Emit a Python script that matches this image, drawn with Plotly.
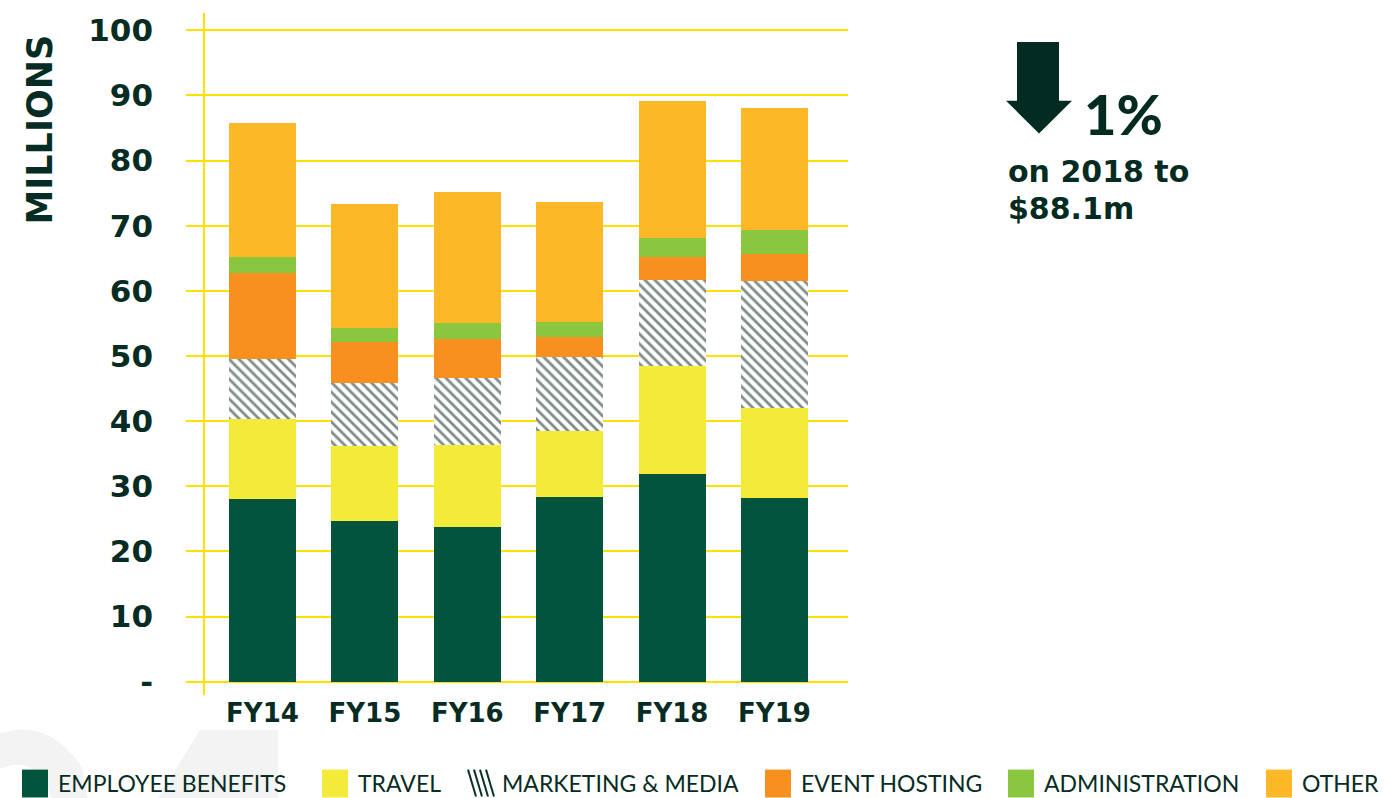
import plotly.graph_objects as go

# values in millions
years = ["FY14", "FY15", "FY16", "FY17", "FY18", "FY19"]
employee_benefits = [28.1, 24.6, 23.7, 28.4, 31.9, 28.2]
travel = [12.2, 11.6, 12.6, 10.1, 16.6, 13.8]
marketing_media = [9.3, 9.6, 10.3, 11.4, 13.1, 19.5]
event_hosting = [13.2, 6.3, 6.0, 3.0, 3.6, 4.2]
administration = [2.4, 2.2, 2.4, 2.3, 2.9, 3.7]
other = [20.6, 19.1, 20.2, 18.5, 21.1, 18.7]

y_tick_vals = [0, 10, 20, 30, 40, 50, 60, 70, 80, 90, 100]
y_tick_text = ["-", "10", "20", "30", "40", "50", "60", "70", "80", "90", "100"]

legend_names = ["EMPLOYEE BENEFITS", "TRAVEL", "MARKETING & MEDIA",
                "EVENT HOSTING", "ADMINISTRATION", "OTHER"]

DARK = "#062C23"
GRID = "#FFE100"
colors = {
    "EMPLOYEE BENEFITS": "#02553C",
    "TRAVEL": "#F4EA3A",
    "MARKETING & MEDIA": "white",
    "EVENT HOSTING": "#F7901F",
    "ADMINISTRATION": "#8BC63F",
    "OTHER": "#FDB827",
}

W, H = 1385, 798
L, R, T, B = 186, 848, 26, 683
Y_RANGE = [-0.2, 100.2]


def px_x(px):
    return (px - L) / (R - L)


def px_y(py):
    return (B - py) / (B - T)


fig = go.Figure()
series = [employee_benefits, travel, marketing_media, event_hosting, administration, other]
for name, vals in zip(legend_names, series):
    marker = dict(color=colors[name], line=dict(width=0))
    if name == "MARKETING & MEDIA":
        marker["pattern"] = dict(shape="\\", fgcolor="#001A12", bgcolor="white",
                                 size=7, solidity=0.4)
    fig.add_trace(go.Bar(x=years, y=vals, name=name, marker=marker,
                         showlegend=False, hoverinfo="y+name"))

shapes = []
# faint background numerals, bottom-left
shapes.append(dict(type="path", xref="paper", yref="paper", layer="below",
                   path="M %f,%f Q %f,%f %f,%f L %f,%f L %f,%f L %f,%f Q %f,%f %f,%f Z" % (
                       px_x(-10), px_y(738), px_x(45), px_y(712), px_x(82), px_y(768),
                       px_x(88), px_y(800), px_x(52), px_y(800), px_x(46), px_y(782),
                       px_x(25), px_y(752), px_x(-10), px_y(775)),
                   fillcolor="#F3F3F3", line=dict(width=0)))
shapes.append(dict(type="path", xref="paper", yref="paper", layer="below",
                   path="M %f,%f L %f,%f L %f,%f L %f,%f Z" % (
                       px_x(157), px_y(800), px_x(200), px_y(730),
                       px_x(278), px_y(730), px_x(278), px_y(800)),
                   fillcolor="#F3F3F3", line=dict(width=0)))
# vertical axis line
shapes.append(dict(type="line", xref="paper", yref="paper", layer="below",
                   x0=px_x(204), x1=px_x(204), y0=px_y(10), y1=px_y(695),
                   line=dict(color=GRID, width=2)))
# down arrow
arrow_pts = [(1017, 39), (1059, 39), (1059, 98), (1072, 98), (1039, 131),
             (1006, 98), (1017, 98)]
path = "M " + " L ".join("%f,%f" % (px_x(a), px_y(b)) for a, b in arrow_pts) + " Z"
shapes.append(dict(type="path", xref="paper", yref="paper", path=path,
                   fillcolor="#032B22", line=dict(width=0)))

annotations = []
annotations.append(dict(text="MILLIONS", xref="paper", yref="paper",
                        x=px_x(40), y=px_y(127), textangle=-90, showarrow=False,
                        xanchor="center", yanchor="middle",
                        font=dict(family="DejaVu Sans", size=35, color=DARK, weight="bold")))
annotations.append(dict(text="1%", xref="paper", yref="paper", x=px_x(1082), y=px_y(111),
                        showarrow=False, xanchor="left", yanchor="middle",
                        font=dict(family="Lato", size=56, color="#032B22", weight=900)))
annotations.append(dict(text="on 2018 to", xref="paper", yref="paper", x=px_x(1006),
                        y=px_y(169), showarrow=False, xanchor="left", yanchor="middle",
                        font=dict(family="DejaVu Sans", size=30, color="#032B22", weight="bold")))
annotations.append(dict(text="$88.1m", xref="paper", yref="paper", x=px_x(1006),
                        y=px_y(206), showarrow=False, xanchor="left", yanchor="middle",
                        font=dict(family="DejaVu Sans", size=30, color="#032B22", weight="bold")))

# legend drawn by hand so the swatches can be as large as in the original
legend_x = [22, 322, 466, 765, 1008, 1266]
for name, lx in zip(legend_names, legend_x):
    if name == "MARKETING & MEDIA":
        for k in range(4):
            shapes.append(dict(type="line", xref="paper", yref="paper",
                               x0=px_x(lx + 2 + 6 * k), y0=px_y(770),
                               x1=px_x(lx + 10 + 6 * k), y1=px_y(797),
                               line=dict(color="#0B3329", width=2)))
    else:
        shapes.append(dict(type="rect", xref="paper", yref="paper",
                           x0=px_x(lx), x1=px_x(lx + 26), y0=px_y(770), y1=px_y(798),
                           fillcolor=colors[name], line=dict(width=0)))
    annotations.append(dict(text=name, xref="paper", yref="paper", x=px_x(lx + 34),
                            y=px_y(783), showarrow=False, xanchor="left", yanchor="middle",
                            font=dict(family="Lato", size=23, color=DARK)))

fig.update_layout(
    barmode="stack",
    bargap=0.345,
    width=W, height=H,
    margin=dict(l=L, r=W - R, t=T, b=H - B),
    paper_bgcolor="white",
    plot_bgcolor="white",
    xaxis=dict(
        type="category",
        range=[-0.747, 5.718],
        showgrid=False, zeroline=False, showline=False,
        ticks="", ticklabelstandoff=12,
        tickfont=dict(family="DejaVu Sans", size=26, color=DARK, weight="bold"),
    ),
    yaxis=dict(
        range=Y_RANGE,
        tickvals=y_tick_vals, ticktext=y_tick_text,
        showgrid=True, gridcolor=GRID, gridwidth=2,
        zeroline=False, showline=False,
        ticks="", ticklabelstandoff=32,
        tickfont=dict(family="DejaVu Sans", size=31, color=DARK, weight="bold"),
    ),
    shapes=shapes,
    annotations=annotations,
    showlegend=False,
)

# the page's default body margin would push the figure off the window edges
fig.write_html("out.html", config={"displayModeBar": False},
               post_script="document.body.style.margin='0';")
